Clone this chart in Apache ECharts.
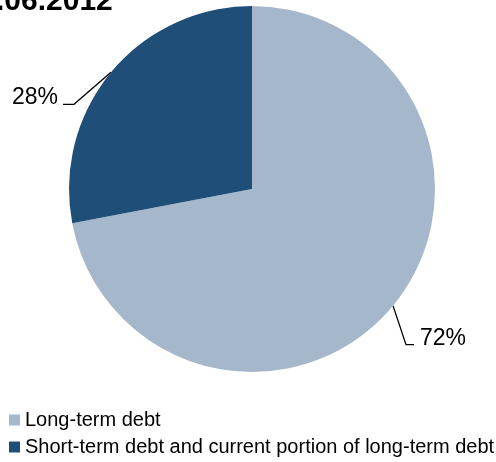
<!DOCTYPE html>
<html>
<head>
<meta charset="utf-8">
<script src="https://cdn.jsdelivr.net/npm/echarts@6/dist/echarts.min.js"></script>
<style>
  html, body { margin: 0; padding: 0; background: #fff; }
  #chart { width: 496px; height: 462px; }
</style>
</head>
<body>
<div id="chart"></div>
<script>
// Debt structure as at the reporting date
const categories = ['Long-term debt', 'Short-term debt and current portion of long-term debt'];
const shares = [72, 28];
const sliceColors = ['#a5b7ca', '#1f4e79'];
const titleText = '.06.2012';

const chart = echarts.init(document.getElementById('chart'), null, { renderer: 'canvas' });

const pieData = categories.map((name, i) => ({
  name: name,
  value: shares[i],
  itemStyle: { color: sliceColors[i] }
}));

chart.setOption({
  animation: false,
  textStyle: { fontFamily: 'Liberation Sans, Arial, sans-serif' },
  graphic: [{
    type: 'text',
    left: -4,
    top: -13,
    style: {
      text: titleText,
      fontFamily: 'Liberation Sans, Arial, sans-serif',
      fontWeight: 'bold',
      fontSize: 30,
      fill: '#000'
    }
  }],
  legend: {
    orient: 'vertical',
    left: 9,
    top: 410,
    padding: 0,
    itemWidth: 11,
    itemHeight: 11,
    itemGap: 7,
    icon: 'rect',
    textStyle: { fontSize: 20, color: '#000', lineHeight: 20 },
    data: categories
  },
  series: [{
    type: 'pie',
    center: [252, 189],
    radius: 183,
    startAngle: 90,
    clockwise: true,
    data: pieData,
    label: {
      show: true,
      position: 'outer',
      alignTo: 'none',
      formatter: '{c}%',
      fontSize: 23,
      color: '#000'
    },
    labelLine: {
      show: true,
      length: 20,
      length2: 10,
      lineStyle: { color: '#000', width: 1.3 }
    },
    emphasis: { disabled: true },
    labelLayout: function (params) {
      const pts = params.labelLinePoints;
      if (!pts) return {};
      const edge = pts[0];
      if (params.dataIndex === 1) {
        const elbow = [edge[0] - 37, edge[1] + 32];
        const end = [elbow[0] - 11, elbow[1]];
        return {
          x: end[0] - 5, y: end[1] - 7,
          align: 'right', verticalAlign: 'middle',
          labelLinePoints: [edge, elbow, end]
        };
      }
      const elbow = [edge[0] + 13, edge[1] + 39];
      const end = [elbow[0] + 8, elbow[1]];
      return {
        x: end[0] + 6, y: end[1] - 6,
        align: 'left', verticalAlign: 'middle',
        labelLinePoints: [edge, elbow, end]
      };
    }
  }]
});
</script>
</body>
</html>
